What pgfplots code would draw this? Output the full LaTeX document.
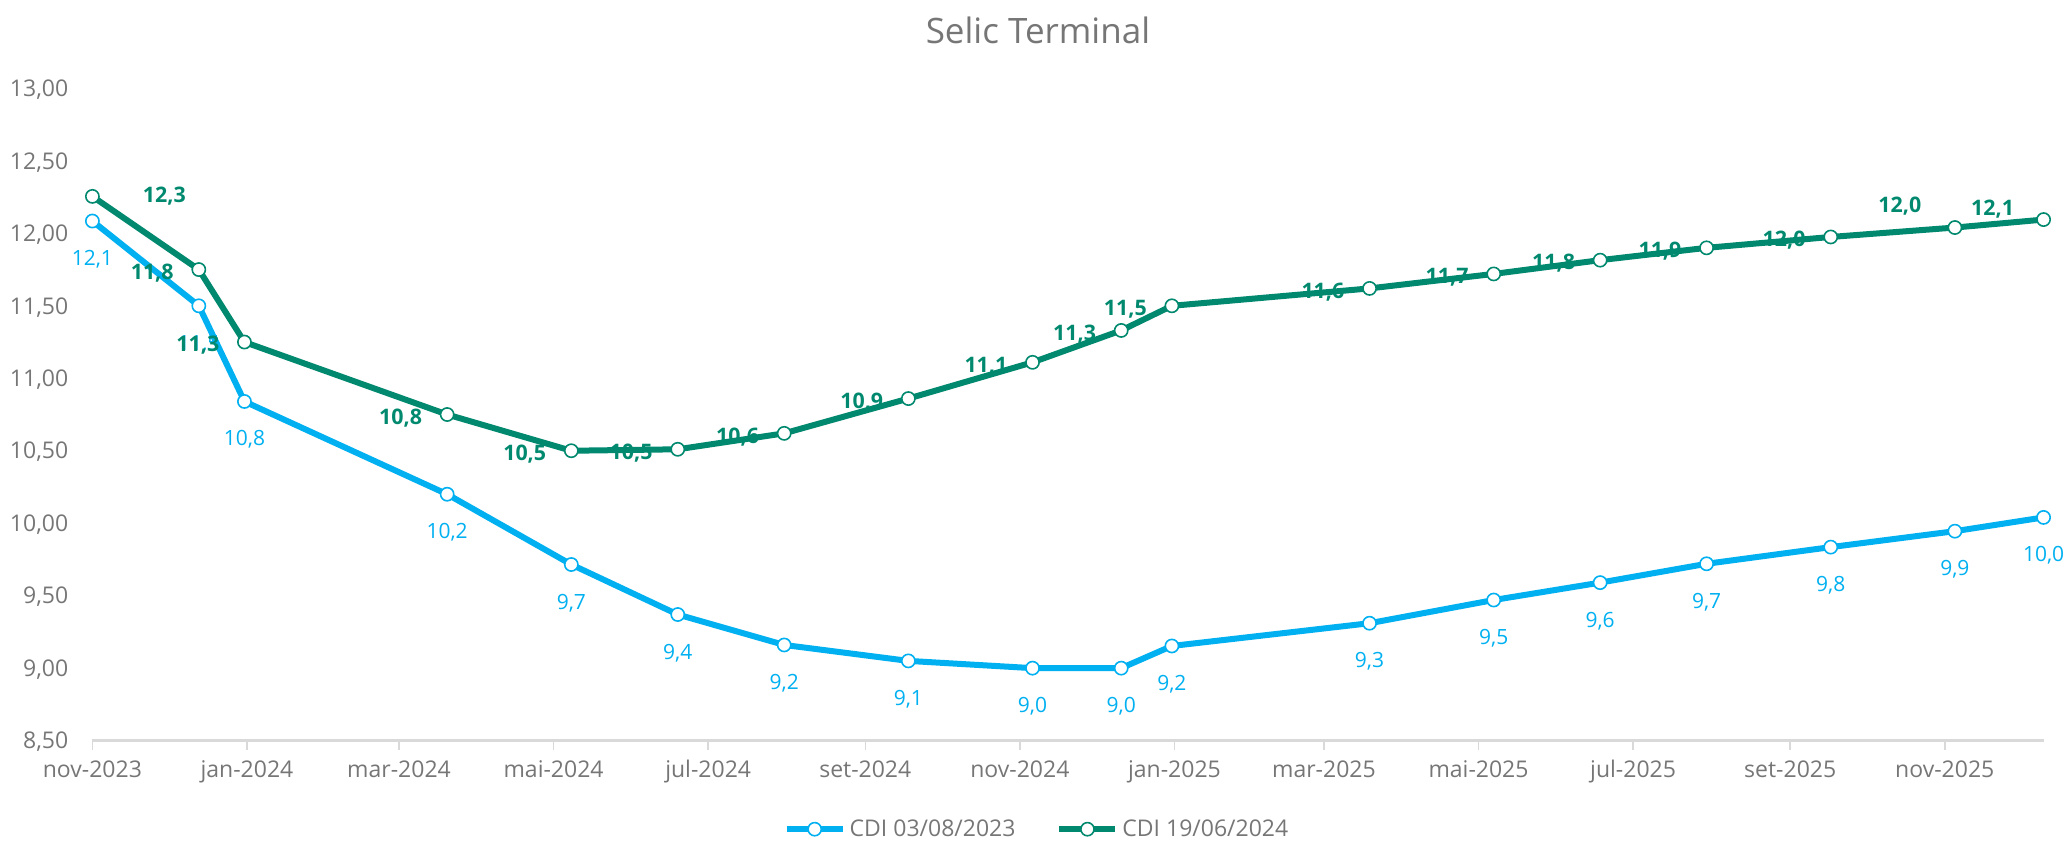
\documentclass[border=0pt]{standalone}
\usepackage{fontspec}
\setmainfont{Open Sans}
\usepackage{pgfplots}
\pgfplotsset{compat=1.18}
\usepackage{pgfplotstable}
\definecolor{cblue}{RGB}{0,176,240}
\definecolor{cgreen}{RGB}{0,137,110}
\definecolor{tgray}{RGB}{118,118,118}
\definecolor{agray}{RGB}{217,217,217}

\pgfplotstableread{
x y lab dx dy
0 12.085 12,1 0 -22.25
42 11.50 11,5 0 -22.25
60 10.84 10,8 0 -22.25
140 10.20 10,2 0 -22.25
189 9.715 9,7 0 -22.25
231 9.37 9,4 0 -22.25
273 9.16 9,2 0 -22.25
322 9.05 9,1 0 -22.25
371 9.00 9,0 0 -22.25
406 9.00 9,0 0 -22.25
426 9.153 9,2 0 -22.25
504 9.31 9,3 0 -22.25
553 9.47 9,5 0 -22.25
595 9.59 9,6 0 -22.25
637 9.72 9,7 0 -22.25
686 9.835 9,8 0 -22.25
735 9.945 9,9 0 -22.25
770 10.04 10,0 0 -22.25
}\blueT

\pgfplotstableread{
x y lab dx dy
0 12.255 12,3 36 -2.9
42 11.75 11,8 -23.3 -4.9
60 11.25 11,3 -23.3 -4.9
140 10.75 10,8 -23.3 -4.9
189 10.50 10,5 -23.3 -4.9
231 10.51 10,5 -23.3 -4.9
273 10.62 10,6 -23.3 -4.9
322 10.86 10,9 -23.3 -4.9
371 11.11 11,1 -23.3 -4.9
406 11.33 11,3 -23.3 -4.9
426 11.50 11,5 -23.3 -4.9
504 11.62 11,6 -23.3 -4.9
553 11.72 11,7 -23.3 -4.9
595 11.815 11,8 -23.3 -4.9
637 11.90 11,9 -23.3 -4.9
686 11.975 12,0 -23.3 -4.9
735 12.04 12,0 -27.5 7.6
770 12.095 12,1 -25.5 2.1
}\greenT

\begin{document}
\begin{tikzpicture}
\begin{axis}[
  scale only axis, width=975.6pt, height=326.1pt,
  at={(0,0)}, anchor=south west,
  xmin=0, xmax=770, ymin=8.5, ymax=13,
  clip=false,
  axis x line*=bottom, axis y line*=left,
  y axis line style={draw=none},
  x axis line style={draw=agray, line width=1.5pt},
  xtick={0,61,121,182,243,305,366,427,486,547,608,670,731},
  xticklabels={nov-2023,jan-2024,mar-2024,mai-2024,jul-2024,set-2024,nov-2024,jan-2025,mar-2025,mai-2025,jul-2025,set-2025,nov-2025},
  ytick={8.5,9,9.5,10,10.5,11,11.5,12,12.5,13},
  yticklabels={{8,50},{9,00},{9,50},{10,00},{10,50},{11,00},{11,50},{12,00},{12,50},{13,00}},
  xtick align=outside, major tick length=4.5pt,
  xtick style={draw=agray, line width=0.75pt},
  ytick style={draw=none},
  ticklabel style={font=\fontsize{11.5}{13}\selectfont, text=tgray, inner sep=0pt},
  xticklabel style={anchor=base, yshift=-14pt},
  yticklabel style={anchor=base east, xshift=-11.9pt, yshift=-4.1pt},
  title={Selic Terminal},
  title style={at={(0.4846,1.0504)}, anchor=base, font=\fontsize{17.5}{20}\selectfont, text=tgray, inner sep=0pt},
  legend style={at={(0.4846,-0.1358)}, anchor=center, draw=none, fill=none, legend columns=2,
    font=\fontsize{11.5}{13}\selectfont, text=tgray,
    /tikz/every even column/.append style={column sep=18.5pt}},
  legend cell align=left,
  legend image code/.code={\draw[mark repeat=2, mark phase=2, #1] plot coordinates {(0pt,0pt) (14pt,0pt) (28pt,0pt)};},
]
\addplot[color=cblue, line width=3pt, mark=*, mark size=3.3pt,
  mark options={fill=white, draw=cblue, line width=0.8pt, solid},
  point meta=explicit symbolic, nodes near coords,
  visualization depends on={\thisrow{dx}\as\dx},
  visualization depends on={\thisrow{dy}\as\dy},
  every node near coord/.append style={anchor=base, inner sep=0pt, xshift=\dx pt, yshift=\dy pt,
    font=\fontsize{10.5}{12}\selectfont, text=cblue}]
  table[x=x, y=y, meta=lab]{\blueT};
\addplot[color=cgreen, line width=3pt, mark=*, mark size=3.3pt,
  mark options={fill=white, draw=cgreen, line width=0.8pt, solid},
  point meta=explicit symbolic, nodes near coords,
  visualization depends on={\thisrow{dx}\as\dx},
  visualization depends on={\thisrow{dy}\as\dy},
  every node near coord/.append style={anchor=base, inner sep=0pt, xshift=\dx pt, yshift=\dy pt,
    font=\fontsize{10.7}{12}\selectfont\bfseries, text=cgreen}]
  table[x=x, y=y, meta=lab]{\greenT};
\legend{CDI 03/08/2023, CDI 19/06/2024}
\end{axis}
\pgfresetboundingbox
\path (-46.2pt,-50.7pt) rectangle (988.8pt,370.3pt);
\end{tikzpicture}
\end{document}
